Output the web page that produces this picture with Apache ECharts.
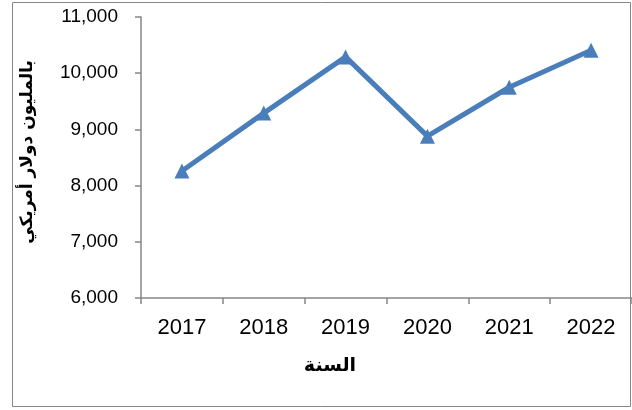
<!DOCTYPE html>
<html>
<head>
<meta charset="utf-8">
<script src="https://cdn.jsdelivr.net/npm/echarts@6/dist/echarts.min.js"></script>
<style>
  html, body { margin: 0; padding: 0; background: #fff; }
  #chart { width: 632px; height: 410px; }
</style>
</head>
<body>
<div id="chart"></div>
<script>
const years = ['2017', '2018', '2019', '2020', '2021', '2022'];
const values = [8260, 9290, 10290, 8880, 9750, 10410];
const yTicks = [6000, 11000, 1000]; // min, max, step

const chart = echarts.init(document.getElementById('chart'));

const option = {
  backgroundColor: '#fff',
  animation: false,
  grid: { left: 141, right: -1, top: 17, bottom: 112 },
  graphic: [
    {
      type: 'rect',
      shape: { x: 12.5, y: 2.5, width: 618, height: 404 },
      style: { fill: 'none', stroke: '#868686', lineWidth: 1 }
    },
    {
      type: 'text',
      x: 330, y: 366,
      style: {
        text: 'السنة',
        font: 'bold 19px "DejaVu Sans", sans-serif',
        fill: '#000',
        align: 'center',
        verticalAlign: 'middle'
      }
    },
    {
      type: 'text',
      x: 28, y: 152,
      rotation: Math.PI / 2,
      style: {
        text: 'بالمليون دولار أمريكي',
        font: 'bold 17px "DejaVu Sans", sans-serif',
        fill: '#000',
        align: 'center',
        verticalAlign: 'middle'
      }
    }
  ],
  xAxis: {
    type: 'category',
    data: years,
    boundaryGap: true,
    axisLine: { lineStyle: { color: '#868686', width: 1.5 } },
    axisTick: { show: true, length: 6, lineStyle: { color: '#868686', width: 1.5 } },
    axisLabel: {
      color: '#000',
      fontFamily: 'Liberation Sans, Arial, sans-serif',
      fontSize: 22,
      margin: 19
    }
  },
  yAxis: {
    type: 'value',
    min: yTicks[0],
    max: yTicks[1],
    interval: yTicks[2],
    axisLine: { show: true, lineStyle: { color: '#868686', width: 1.5 } },
    axisTick: { show: true, length: 6, lineStyle: { color: '#868686', width: 1.5 } },
    splitLine: { show: false },
    axisLabel: {
      color: '#000',
      fontFamily: 'Liberation Sans, Arial, sans-serif',
      fontSize: 19,
      margin: 23,
      formatter: v => v.toLocaleString('en-US')
    }
  },
  series: [{
    type: 'line',
    data: values,
    symbol: 'triangle',
    symbolSize: 15,
    lineStyle: { color: '#4a7ebb', width: 5 },
    itemStyle: { color: '#4a7ebb' }
  }]
};

chart.setOption(option);
</script>
</body>
</html>
